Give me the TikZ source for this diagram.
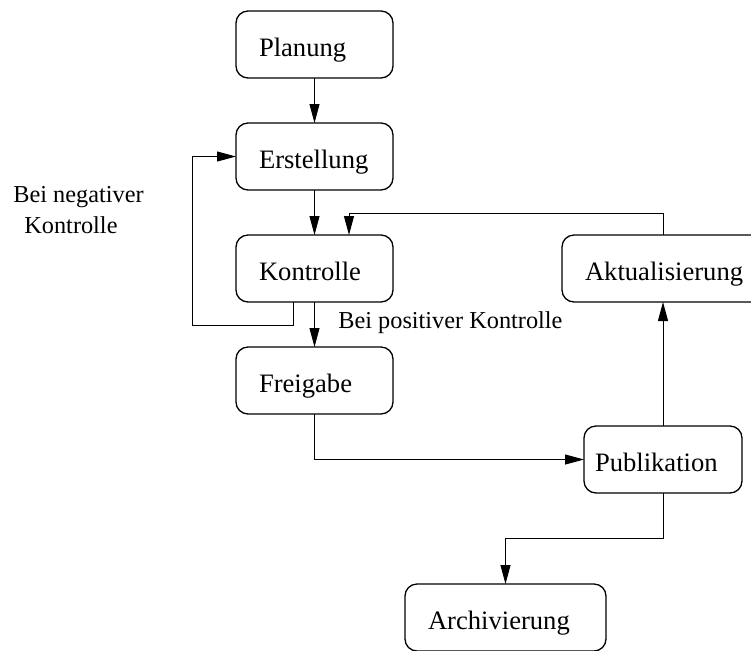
\documentclass[tikz,border=0pt]{standalone}
\usepackage{fontspec}
\setmainfont{Liberation Serif}
\usetikzlibrary{arrows.meta}
\begin{document}
\begin{tikzpicture}[x=0.5pt,y=-0.5pt,
  box/.style={draw, rounded corners=6pt, line width=0.65pt, anchor=north west,
    minimum height=33.5pt, inner ysep=0pt, inner xsep=11.5pt, outer sep=0pt,
    align=left, text height=11.5pt, text depth=0pt,
    font=\fontsize{13.3}{16}\selectfont},
  conn/.style={draw, line width=0.5pt, -{Triangle[length=9.5pt,width=5pt]}},
  lab/.style={inner sep=0pt, anchor=base west, font=\fontsize{12.15}{15}\selectfont}]
\useasboundingbox (0,0) rectangle (751,650);

% process steps
\node[box, text width=55.5pt] (planung)    at (236,11)  {Planung};
\node[box, text width=55.5pt] (erstellung) at (236,123) {Erstellung};
\node[box, text width=55.5pt] (kontrolle)  at (236,235) {Kontrolle};
\node[box, text width=55.5pt] (freigabe)   at (236,347) {Freigabe};
\node[box, inner xsep=5.5pt, text width=68pt] (publikation) at (584,426) {Publikation};
\node[box, text width=81pt]   (aktualisierung) at (562,235) {Aktualisierung};
\node[box, text width=77.5pt] (archivierung)   at (405,584) {Archivierung};

% bend points of the loops
\coordinate (negbend) at (192,325);
\coordinate (updbend) at (349,213);

% main flow
\draw[conn] (planung.south) -- (erstellung.north);
\draw[conn] (erstellung.south) -- (kontrolle.north);
\draw[conn] (kontrolle.south) -- (freigabe.north);
\draw[conn] (freigabe.south) |- (publikation.west);
\draw[conn] (publikation.north) -- (publikation.north |- aktualisierung.south);
\draw[conn] (publikation.south) -- ++(0,45) -| (archivierung.north);

% rework after a failed check
\draw[conn] ([xshift=-10.75pt]kontrolle.south) |- (negbend) |- (erstellung.west);

% updates go back to the check
\draw[conn] (publikation.north |- aktualisierung.north) |- (updbend) -- (updbend |- kontrolle.north);

% labels
\node[lab] (poslabel) at (338,328) {Bei positiver Kontrolle};
\node[lab] (neglabelA) at (13,202) {Bei negativer};
\node[lab] (neglabelB) at (24,233) {Kontrolle};
\end{tikzpicture}
\end{document}
